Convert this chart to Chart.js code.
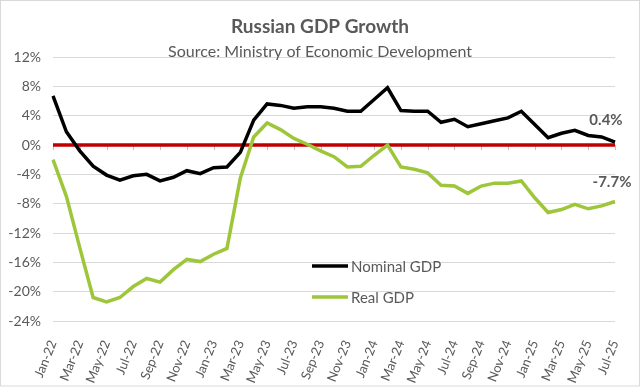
<!DOCTYPE html>
<html>
<head>
<meta charset="utf-8">
<script src="https://cdn.jsdelivr.net/npm/chart.js@4"></script>
<style>
  body { margin: 0; background: #fff; }
  #wrap { width: 640px; height: 388px; position: relative; }
</style>
</head>
<body>
<div id="wrap"><canvas id="chart"></canvas></div>
<script>
// monthly, Jan-22 .. Jul-25
const months = ['Jan','Feb','Mar','Apr','May','Jun','Jul','Aug','Sep','Oct','Nov','Dec'];
const labels = [];
for (let y = 22; y <= 25; y++) {
  for (let m = 0; m < 12; m++) {
    if (y === 25 && m > 6) break;
    labels.push(months[m] + '-' + y);
  }
}

const nominalGdp = [
  6.7, 1.8, -0.8, -2.9, -4.1, -4.8, -4.2, -4.0, -4.9, -4.4, -3.5, -3.9,
  -3.1, -3.0, -1.0, 3.4, 5.6, 5.4, 5.0, 5.2, 5.2, 5.0, 4.6, 4.6,
  6.2, 7.8, 4.7, 4.6, 4.6, 3.1, 3.5, 2.5, 2.9, 3.3, 3.7, 4.6,
  2.8, 1.0, 1.6, 2.0, 1.3, 1.1, 0.4
];
const realGdp = [
  -2.0, -7.0, -14.0, -20.8, -21.4, -20.8, -19.3, -18.2, -18.7, -17.0, -15.6, -15.9,
  -14.9, -14.1, -4.5, 1.1, 3.0, 2.1, 0.9, 0.1, -0.8, -1.6, -3.0, -2.9,
  -1.4, 0.0, -3.0, -3.3, -3.8, -5.5, -5.6, -6.6, -5.6, -5.2, -5.2, -4.9,
  -7.2, -9.2, -8.8, -8.1, -8.7, -8.3, -7.7
];
const yTicks = { min: -24, max: 12, step: 4 };

const textGray = '#595959';
Chart.defaults.font.family = 'Lato, "Open Sans", sans-serif';
Chart.defaults.color = textGray;

// title, zero line, legend, end labels, frame
const decorations = {
  id: 'decorations',
  beforeDatasetsDraw(chart) {
    const ctx = chart.ctx;
    const area = chart.chartArea;
    const y0 = chart.scales.y.getPixelForValue(0);
    ctx.save();
    // small tick marks under the zero line
    ctx.strokeStyle = '#bfbfbf';
    ctx.lineWidth = 1;
    for (let i = 0; i < labels.length; i += 2) {
      const x = Math.round(chart.scales.x.getPixelForValue(i)) + 0.5;
      ctx.beginPath();
      ctx.moveTo(x, y0);
      ctx.lineTo(x, y0 + 5);
      ctx.stroke();
    }
    ctx.strokeStyle = '#C00000';
    ctx.lineWidth = 3.5;
    ctx.beginPath();
    ctx.moveTo(area.left, y0);
    ctx.lineTo(area.right, y0);
    ctx.stroke();
    ctx.restore();
  },
  afterDraw(chart) {
    const ctx = chart.ctx;
    ctx.save();
    ctx.fillStyle = textGray;
    ctx.textAlign = 'center';
    ctx.textBaseline = 'alphabetic';
    ctx.font = 'bold 19px Lato, sans-serif';
    ctx.fillText('Russian GDP Growth', 320, 33);
    ctx.font = '16px Lato, sans-serif';
    ctx.fillText('Source: Ministry of Economic Development', 320, 57);

    // legend inside the plot
    const sets = chart.data.datasets;
    ctx.textAlign = 'left';
    ctx.textBaseline = 'middle';
    ctx.font = '15px Lato, sans-serif';
    [266, 297].forEach(function (ly, i) {
      ctx.strokeStyle = sets[i].borderColor;
      ctx.lineWidth = 3.5;
      ctx.beginPath();
      ctx.moveTo(312, ly);
      ctx.lineTo(348, ly);
      ctx.stroke();
      ctx.fillStyle = textGray;
      ctx.fillText(sets[i].label, 351, ly + 1);
    });

    // last value labels
    ctx.font = 'bold 15px Lato, sans-serif';
    ctx.textAlign = 'center';
    const offsets = [[-9, -22], [-3, -19]];
    sets.forEach(function (ds, i) {
      const pts = chart.getDatasetMeta(i).data;
      const p = pts[pts.length - 1];
      const v = ds.data[ds.data.length - 1];
      ctx.fillText(v.toFixed(1) + '%', p.x + offsets[i][0], p.y + offsets[i][1]);
    });

    ctx.strokeStyle = '#d9d9d9';
    ctx.lineWidth = 1;
    ctx.strokeRect(0.5, 0.5, 639, 385.5);
    ctx.restore();
  }
};

new Chart(document.getElementById('chart'), {
  type: 'line',
  data: {
    labels: labels,
    datasets: [
      {
        label: 'Nominal GDP',
        data: nominalGdp,
        borderColor: '#000000',
        borderWidth: 3.5,
        pointRadius: 0,
        tension: 0
      },
      {
        label: 'Real GDP',
        data: realGdp,
        borderColor: '#9EC63A',
        borderWidth: 3.5,
        pointRadius: 0,
        tension: 0
      }
    ]
  },
  options: {
    responsive: true,
    maintainAspectRatio: false,
    animation: false,
    layout: { padding: { top: 57, right: 25, left: 0, bottom: 0 } },
    plugins: {
      legend: { display: false },
      title: { display: false },
      tooltip: { enabled: false }
    },
    scales: {
      x: {
        offset: false,
        grid: { display: false },
        border: { display: false },
        ticks: {
          autoSkip: false,
          minRotation: 68,
          maxRotation: 68,
          padding: 9,
          font: { size: 13 },
          callback: function (value, index) {
            return index % 2 === 0 ? labels[index] : null;
          }
        },
        afterFit: function (scale) { scale.height = 67; }
      },
      y: {
        min: yTicks.min,
        max: yTicks.max,
        grid: { color: '#d9d9d9', drawTicks: false },
        border: { display: false },
        ticks: {
          stepSize: yTicks.step,
          padding: 12,
          font: { size: 14 },
          callback: function (v) { return v + '%'; }
        },
        afterFit: function (scale) { scale.width = 53; }
      }
    }
  },
  plugins: [decorations]
});
</script>
</body>
</html>
